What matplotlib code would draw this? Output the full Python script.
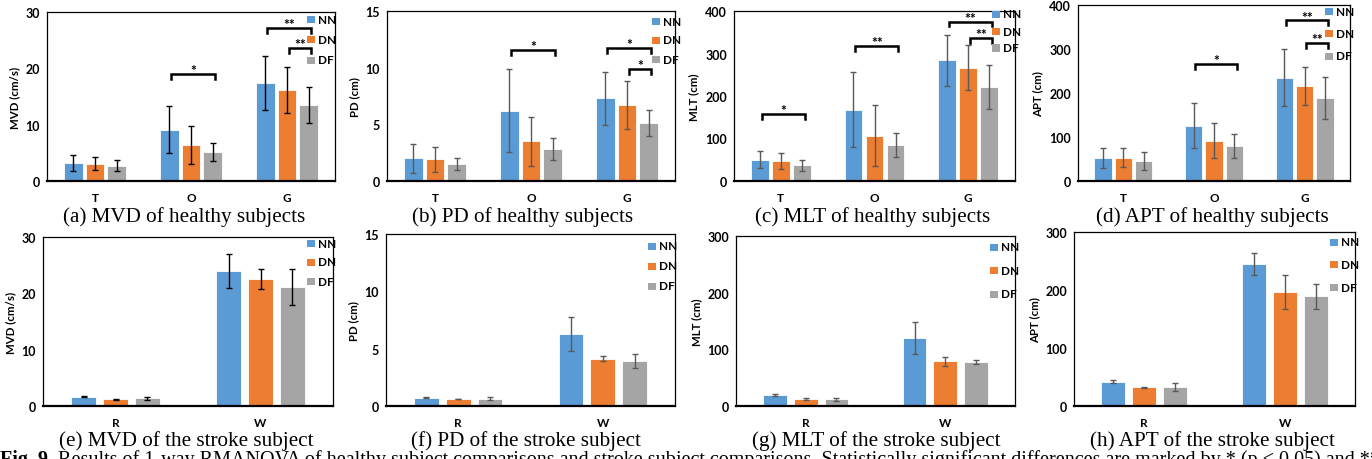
import numpy as np
import matplotlib
matplotlib.use('Agg')
import matplotlib.pyplot as plt
from matplotlib.patches import Rectangle

# categories and groups
healthy_cats = ['T', 'O', 'G']
stroke_cats = ['R', 'W']
groups = ['NN', 'DN', 'DF']
colors = ['#5B9BD5', '#ED7D31', '#A5A5A5']

# healthy subjects: rows = NN, DN, DF ; columns = T, O, G
mvd_h = [[3.2, 9.1, 17.4], [3.1, 6.4, 16.2], [2.7, 5.2, 13.5]]
mvd_h_err = [[1.4, 4.2, 4.85], [1.1, 3.3, 4.05], [1.0, 1.6, 3.2]]
pd_h = [[2.0, 6.2, 7.3], [1.9, 3.5, 6.7], [1.5, 2.8, 5.1]]
pd_h_err = [[1.25, 3.65, 2.35], [1.07, 2.15, 2.1], [0.5, 0.97, 1.15]]
mlt_h = [[50, 168, 284], [47, 107, 267], [37, 84, 222]]
mlt_h_err = [[19.6, 88, 59.6], [18, 71, 52.5], [13, 28.6, 51.8]]
apt_h = [[52, 126, 235], [53, 92, 216], [45, 80, 189]]
apt_h_err = [[23.5, 50.7, 65.5], [22, 40, 43], [20, 27, 48.5]]

# stroke subject: columns = R, W
mvd_s = [[1.66, 23.9], [1.19, 22.5], [1.37, 21.1]]
mvd_s_err = [[0.15, 3.0], [0.1, 1.75], [0.3, 3.2]]
pd_s = [[0.74, 6.29], [0.62, 4.12], [0.62, 3.94]]
pd_s_err = [[0.05, 1.48], [0.03, 0.2], [0.13, 0.62]]
mlt_s = [[18.8, 119.4], [12.9, 78.8], [11.8, 78.2]]
mlt_s_err = [[1.5, 28.2], [2, 8.5], [3, 3.3]]
apt_s = [[42, 245], [32.3, 197], [32.9, 189]]
apt_s_err = [[2.3, 19], [1, 29.7], [7, 21]]

# significance brackets: (category, group from, group to, height, label)
mvd_sig = [(1, 0, 2, 19.0, '*'), (2, 0, 2, 27.2, '**'), (2, 1, 2, 23.6, '**')]
pd_sig = [(1, 0, 2, 11.56, '*'), (2, 0, 2, 11.7, '*'), (2, 1, 2, 9.9, '*')]
mlt_sig = [(0, 0, 2, 157, '*'), (1, 0, 2, 317, '**'), (2, 0, 2, 375, '**'), (2, 1, 2, 336, '**')]
apt_sig = [(1, 0, 2, 266, '*'), (2, 0, 2, 365, '**'), (2, 1, 2, 313, '**')]

panels = [
    ('MVD (cm/s)', healthy_cats, mvd_h, mvd_h_err, mvd_sig, 30, 10, '(a) MVD of healthy subjects'),
    ('PD (cm)', healthy_cats, pd_h, pd_h_err, pd_sig, 15, 5, '(b) PD of healthy subjects'),
    ('MLT (cm)', healthy_cats, mlt_h, mlt_h_err, mlt_sig, 400, 100, '(c) MLT of healthy subjects'),
    ('APT (cm)', healthy_cats, apt_h, apt_h_err, apt_sig, 400, 100, '(d) APT of healthy subjects'),
    ('MVD (cm/s)', stroke_cats, mvd_s, mvd_s_err, [], 30, 10, '(e) MVD of the stroke subject'),
    ('PD (cm)', stroke_cats, pd_s, pd_s_err, [], 15, 5, '(f) PD of the stroke subject'),
    ('MLT (cm)', stroke_cats, mlt_s, mlt_s_err, [], 300, 100, '(g) MLT of the stroke subject'),
    ('APT (cm)', stroke_cats, apt_s, apt_s_err, [], 300, 100, '(h) APT of the stroke subject'),
]

W, H = 1372, 460
# axes boxes in pixels: left, top, right, bottom
boxes = [(47, 13, 335, 182), (387, 12, 675, 182), (734, 12, 1015, 182), (1078, 6, 1350, 182),
         (43, 238, 333, 407), (386, 235, 675, 407), (736, 237, 1015, 407), (1074, 233, 1355, 407)]
cap_pos = [(184, 217), (523, 217), (873, 217), (1212, 217),
           (186, 441), (526, 441), (876, 441), (1212, 441)]
# legend: marker left x, first row centre y, row spacing (pixels)
leg_pos = [(307, 20, 20.5), (652, 22, 19), (992, 15, 17), (1325, 12, 22.5),
           (307, 244, 19), (648, 247, 20), (990, 248, 23.5), (1330, 243, 22.5)]
err_cols = ['black', '#595959', '#595959', '#595959', 'black', '#595959', '#595959', '#595959']

tick_font = 'Lato'
fig = plt.figure(figsize=(W / 100, H / 100), dpi=100)

for i, (ylab, cats, vals, errs, sig, ymax, ystep, cap) in enumerate(panels):
    l, t, r, b = boxes[i]
    ax = fig.add_axes([l / W, 1 - b / H, (r - l) / W, (b - t) / H])
    x = np.arange(len(cats))
    if len(cats) == 3:
        bw, off = 0.19, 0.225
    else:
        bw, off = 0.17, 0.22
    for g in range(3):
        ax.bar(x + (g - 1) * off, vals[g], bw, color=colors[g], edgecolor='white',
               linewidth=0.6, label=groups[g], zorder=2)
        ax.errorbar(x + (g - 1) * off, vals[g], yerr=errs[g], fmt='none',
                    ecolor=err_cols[i], elinewidth=1.0, capsize=2, capthick=1.0, zorder=3)
    tick = 0.028 * ymax
    for c, g1, g2, h, lab in sig:
        x1 = c + (g1 - 1) * off + 0.02
        x2 = c + (g2 - 1) * off + 0.03
        ax.plot([x1, x1, x2, x2], [h - tick, h, h, h - tick], color='black', lw=1.8,
                solid_joinstyle='miter', zorder=4, clip_on=False)
        ax.text((x1 + x2) / 2, h - 0.012 * ymax, lab, ha='center', va='bottom',
                fontsize=10, fontweight='bold', family=tick_font, zorder=5)
    ax.set_xlim(-0.5, len(cats) - 0.5)
    ax.set_ylim(0, ymax)
    ax.set_yticks(np.arange(0, ymax + 1e-9, ystep))
    ax.set_xticks(x)
    ax.set_xticklabels(cats)
    ax.tick_params(length=0, labelsize=9)
    ax.tick_params(axis='x', pad=8, labelsize=8.5)
    ax.tick_params(axis='y', pad=5)
    for lbl in ax.get_xticklabels() + ax.get_yticklabels():
        lbl.set_fontweight('bold')
        lbl.set_family(tick_font)
    ax.set_ylabel(ylab, fontsize=8.3, fontweight='bold', family=tick_font, labelpad=4)
    for s in ['left', 'right', 'top']:
        ax.spines[s].set_linewidth(0.9)
        ax.spines[s].set_color('black')
    ax.spines['bottom'].set_linewidth(1.6)

    # legend entries (square + label), Excel style
    mx, my, sp = leg_pos[i]
    for g in range(3):
        cy = my + g * sp
        fig.add_artist(Rectangle((mx / W, 1 - (cy + 3.5) / H), 8 / W, 7 / H,
                                 transform=fig.transFigure, facecolor=colors[g],
                                 edgecolor='none', zorder=6))
        fig.text((mx + 11) / W, 1 - cy / H, groups[g], ha='left', va='center',
                 fontsize=8.5, fontweight='bold', family=tick_font, zorder=6)

    fig.text(cap_pos[i][0] / W, 1 - cap_pos[i][1] / H, cap, ha='center', va='center',
             fontsize=15.2, family='Liberation Serif')

# bottom caption (cut off at the image edge)
fig.canvas.draw()
ty = 1 - 450 / H
t1 = fig.text(0.0, ty, 'Fig. 9.', ha='left', va='top', fontsize=14.5,
              fontweight='bold', family='Liberation Serif')
bb = t1.get_window_extent(fig.canvas.get_renderer())
fig.text((bb.x1 + 5) / W, ty,
         'Results of 1-way RMANOVA of healthy subject comparisons and stroke subject comparisons. '
         'Statistically significant differences are marked by * (p < 0.05) and ** (p < 0.01).',
         ha='left', va='top', fontsize=14.5, family='Liberation Serif')

fig.savefig('out.png', dpi=100)
